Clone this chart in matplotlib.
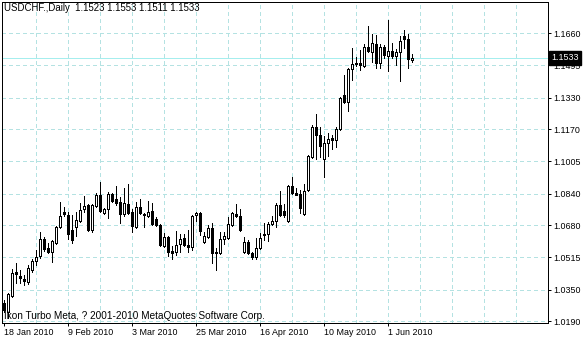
import matplotlib
matplotlib.use("Agg")
import matplotlib.pyplot as plt
from matplotlib.patches import Rectangle
from matplotlib.transforms import blended_transform_factory

# Daily USDCHF candles, 18 Jan 2010 .. 9 Jun 2010
opens = [1.0282, 1.0236, 1.0318, 1.0440, 1.0420, 1.0404, 1.0389, 1.0450, 1.0496, 1.0522,
         1.0609, 1.0563, 1.0542, 1.0588, 1.0670, 1.0746, 1.0731, 1.0655, 1.0670, 1.0701,
         1.0762, 1.0782, 1.0655, 1.0777, 1.0833, 1.0741, 1.0762, 1.0838, 1.0813, 1.0798,
         1.0736, 1.0788, 1.0746, 1.0670, 1.0772, 1.0736, 1.0726, 1.0751, 1.0711, 1.0680,
         1.0573, 1.0619, 1.0547, 1.0542, 1.0583, 1.0614, 1.0578, 1.0568, 1.0731, 1.0741,
         1.0593, 1.0619, 1.0665, 1.0542, 1.0537, 1.0609, 1.0614, 1.0680, 1.0736, 1.0726,
         1.0542, 1.0593, 1.0537, 1.0517, 1.0563, 1.0634, 1.0634, 1.0685, 1.0701, 1.0782,
         1.0751, 1.0701, 1.0879, 1.0843, 1.0838, 1.0736, 1.0859, 1.1027, 1.1180, 1.1139,
         1.1017, 1.1099, 1.1124, 1.1114, 1.1170, 1.1344, 1.1308, 1.1476, 1.1507, 1.1507,
         1.1492, 1.1589, 1.1563, 1.1604, 1.1507, 1.1589, 1.1543, 1.1568, 1.1543, 1.1563,
         1.1645, 1.1629, 1.1523]
highs = [1.0297, 1.0333, 1.0456, 1.0486, 1.0450, 1.0425, 1.0476, 1.0507, 1.0552, 1.0644,
         1.0619, 1.0588, 1.0604, 1.0675, 1.0798, 1.0772, 1.0746, 1.0731, 1.0746, 1.0793,
         1.0828, 1.0788, 1.0788, 1.0843, 1.0900, 1.0767, 1.0849, 1.0843, 1.0879, 1.0823,
         1.0869, 1.0889, 1.0762, 1.0798, 1.0813, 1.0741, 1.0803, 1.0793, 1.0721, 1.0685,
         1.0639, 1.0624, 1.0573, 1.0650, 1.0634, 1.0634, 1.0655, 1.0731, 1.0746, 1.0746,
         1.0644, 1.0680, 1.0691, 1.0563, 1.0644, 1.0644, 1.0721, 1.0746, 1.0788, 1.0762,
         1.0619, 1.0604, 1.0542, 1.0614, 1.0639, 1.0691, 1.0696, 1.0726, 1.0793, 1.0854,
         1.0788, 1.0884, 1.0925, 1.0869, 1.0859, 1.0889, 1.1037, 1.1191, 1.1247, 1.1180,
         1.1134, 1.1150, 1.1139, 1.1180, 1.1333, 1.1446, 1.1481, 1.1583, 1.1538, 1.1573,
         1.1604, 1.1696, 1.1655, 1.1650, 1.1604, 1.1599, 1.1726, 1.1609, 1.1578, 1.1645,
         1.1675, 1.1655, 1.1553]
lows = [1.0236, 1.0205, 1.0313, 1.0384, 1.0384, 1.0374, 1.0379, 1.0440, 1.0476, 1.0512,
        1.0547, 1.0537, 1.0491, 1.0583, 1.0665, 1.0726, 1.0609, 1.0588, 1.0624, 1.0696,
        1.0746, 1.0649, 1.0644, 1.0772, 1.0746, 1.0736, 1.0716, 1.0798, 1.0782, 1.0691,
        1.0726, 1.0736, 1.0644, 1.0665, 1.0736, 1.0670, 1.0721, 1.0680, 1.0675, 1.0573,
        1.0568, 1.0522, 1.0507, 1.0527, 1.0542, 1.0573, 1.0542, 1.0552, 1.0701, 1.0629,
        1.0588, 1.0614, 1.0486, 1.0450, 1.0532, 1.0583, 1.0609, 1.0675, 1.0721, 1.0649,
        1.0537, 1.0532, 1.0507, 1.0507, 1.0558, 1.0604, 1.0598, 1.0680, 1.0670, 1.0726,
        1.0721, 1.0696, 1.0838, 1.0833, 1.0741, 1.0731, 1.0854, 1.1022, 1.1017, 1.1027,
        1.0925, 1.1032, 1.1068, 1.1078, 1.1165, 1.1303, 1.1262, 1.1420, 1.1491, 1.1471,
        1.1487, 1.1563, 1.1512, 1.1481, 1.1481, 1.1532, 1.1466, 1.1532, 1.1497, 1.1415,
        1.1583, 1.1481, 1.1511]
closes = [1.0246, 1.0328, 1.0435, 1.0430, 1.0410, 1.0394, 1.0461, 1.0496, 1.0517, 1.0609,
          1.0558, 1.0542, 1.0598, 1.0670, 1.0726, 1.0736, 1.0634, 1.0604, 1.0706, 1.0757,
          1.0777, 1.0655, 1.0782, 1.0833, 1.0751, 1.0762, 1.0838, 1.0803, 1.0792, 1.0736,
          1.0792, 1.0741, 1.0675, 1.0772, 1.0741, 1.0731, 1.0746, 1.0685, 1.0680, 1.0578,
          1.0619, 1.0542, 1.0537, 1.0578, 1.0609, 1.0578, 1.0568, 1.0726, 1.0741, 1.0649,
          1.0624, 1.0665, 1.0537, 1.0535, 1.0609, 1.0624, 1.0685, 1.0741, 1.0726, 1.0655,
          1.0593, 1.0537, 1.0517, 1.0563, 1.0614, 1.0629, 1.0685, 1.0701, 1.0782, 1.0731,
          1.0731, 1.0879, 1.0843, 1.0833, 1.0767, 1.0854, 1.1032, 1.1180, 1.1139, 1.1083,
          1.1099, 1.1119, 1.1114, 1.1170, 1.1328, 1.1308, 1.1476, 1.1502, 1.1500, 1.1497,
          1.1589, 1.1568, 1.1609, 1.1507, 1.1589, 1.1548, 1.1568, 1.1543, 1.1563, 1.1619,
          1.1629, 1.1527, 1.1533]

date_labels = ["18 Jan 2010", "9 Feb 2010", "3 Mar 2010", "25 Mar 2010",
               "16 Apr 2010", "10 May 2010", "1 Jun 2010"]
date_bars = [0, 16, 32, 48, 64, 80, 96]
price_labels = ["1.0190", "1.0350", "1.0515", "1.0680", "1.0840",
                "1.1005", "1.1170", "1.1330", "1.1495", "1.1660"]
price_ticks = [1.0190, 1.0350, 1.0515, 1.0680, 1.0840,
               1.1005, 1.1170, 1.1330, 1.1495, 1.1660]
vgrid_bars = list(range(8, 137, 8))
bid = 1.1533

plt.rcParams["font.family"] = ["Liberation Sans", "DejaVu Sans"]
FS = 6.4
PX = 0.72  # one pixel in points at 100 dpi
GRID = "#b4e2e2"

fig = plt.figure(figsize=(5.86, 3.40), dpi=100)
ax = fig.add_axes([2 / 586, 17 / 340, 546 / 586, 321 / 340])
ax.set_xlim(-0.375, 136.125)
ax.set_ylim(1.01798, 1.18183)

# grid
for p in price_ticks:
    ax.axhline(p, color=GRID, lw=PX, ls=(0, (3, 3)), zorder=0, antialiased=False)
for b in vgrid_bars:
    ax.axvline(b, color=GRID, lw=PX, ls=(0, (3, 3)), zorder=0, antialiased=False)

# bid line
ax.axhline(bid, color="#a6eeee", lw=PX, zorder=1, antialiased=False)

# candles
xs = list(range(len(opens)))
ax.vlines(xs, lows, highs, color="black", lw=PX, zorder=2, antialiased=False)
for i, (o, c) in enumerate(zip(opens, closes)):
    face = "white" if c >= o else "black"
    ax.add_patch(Rectangle((i - 0.25, min(o, c)), 0.5, abs(c - o),
                           facecolor=face, edgecolor="black", lw=PX,
                           zorder=3, antialiased=False))

for s in ax.spines.values():
    s.set_linewidth(PX)
    s.set_color("black")

ax.yaxis.tick_right()
ax.set_yticks(price_ticks)
ax.set_yticklabels(price_labels)
ax.set_xticks(date_bars)
ax.set_xticklabels(date_labels, ha="left")
ax.tick_params(axis="both", direction="out", length=2.2, width=PX,
               labelsize=FS, colors="black")
ax.tick_params(axis="y", pad=1.5)
ax.tick_params(axis="x", pad=1.5)

# bid price label
tr = blended_transform_factory(ax.transAxes, ax.transData)
ax.text(1.0 + 3 / 546, bid, "1.1533", transform=tr, color="white", fontsize=FS,
        va="center", ha="left", zorder=5,
        bbox=dict(boxstyle="square,pad=0.25", facecolor="black", edgecolor="black"))

fig.text(4 / 586, 1 - 8 / 340, "USDCHF.,Daily  1.1523 1.1553 1.1511 1.1533",
         fontsize=6.9, va="center", ha="left")
ax.text(2 / 546, 1 - 314 / 321, "Ikon Turbo Meta, ? 2001-2010 MetaQuotes Software Corp.",
        transform=ax.transAxes, fontsize=7.2, va="center", ha="left", zorder=6)

fig.savefig("out.png", dpi=100)
